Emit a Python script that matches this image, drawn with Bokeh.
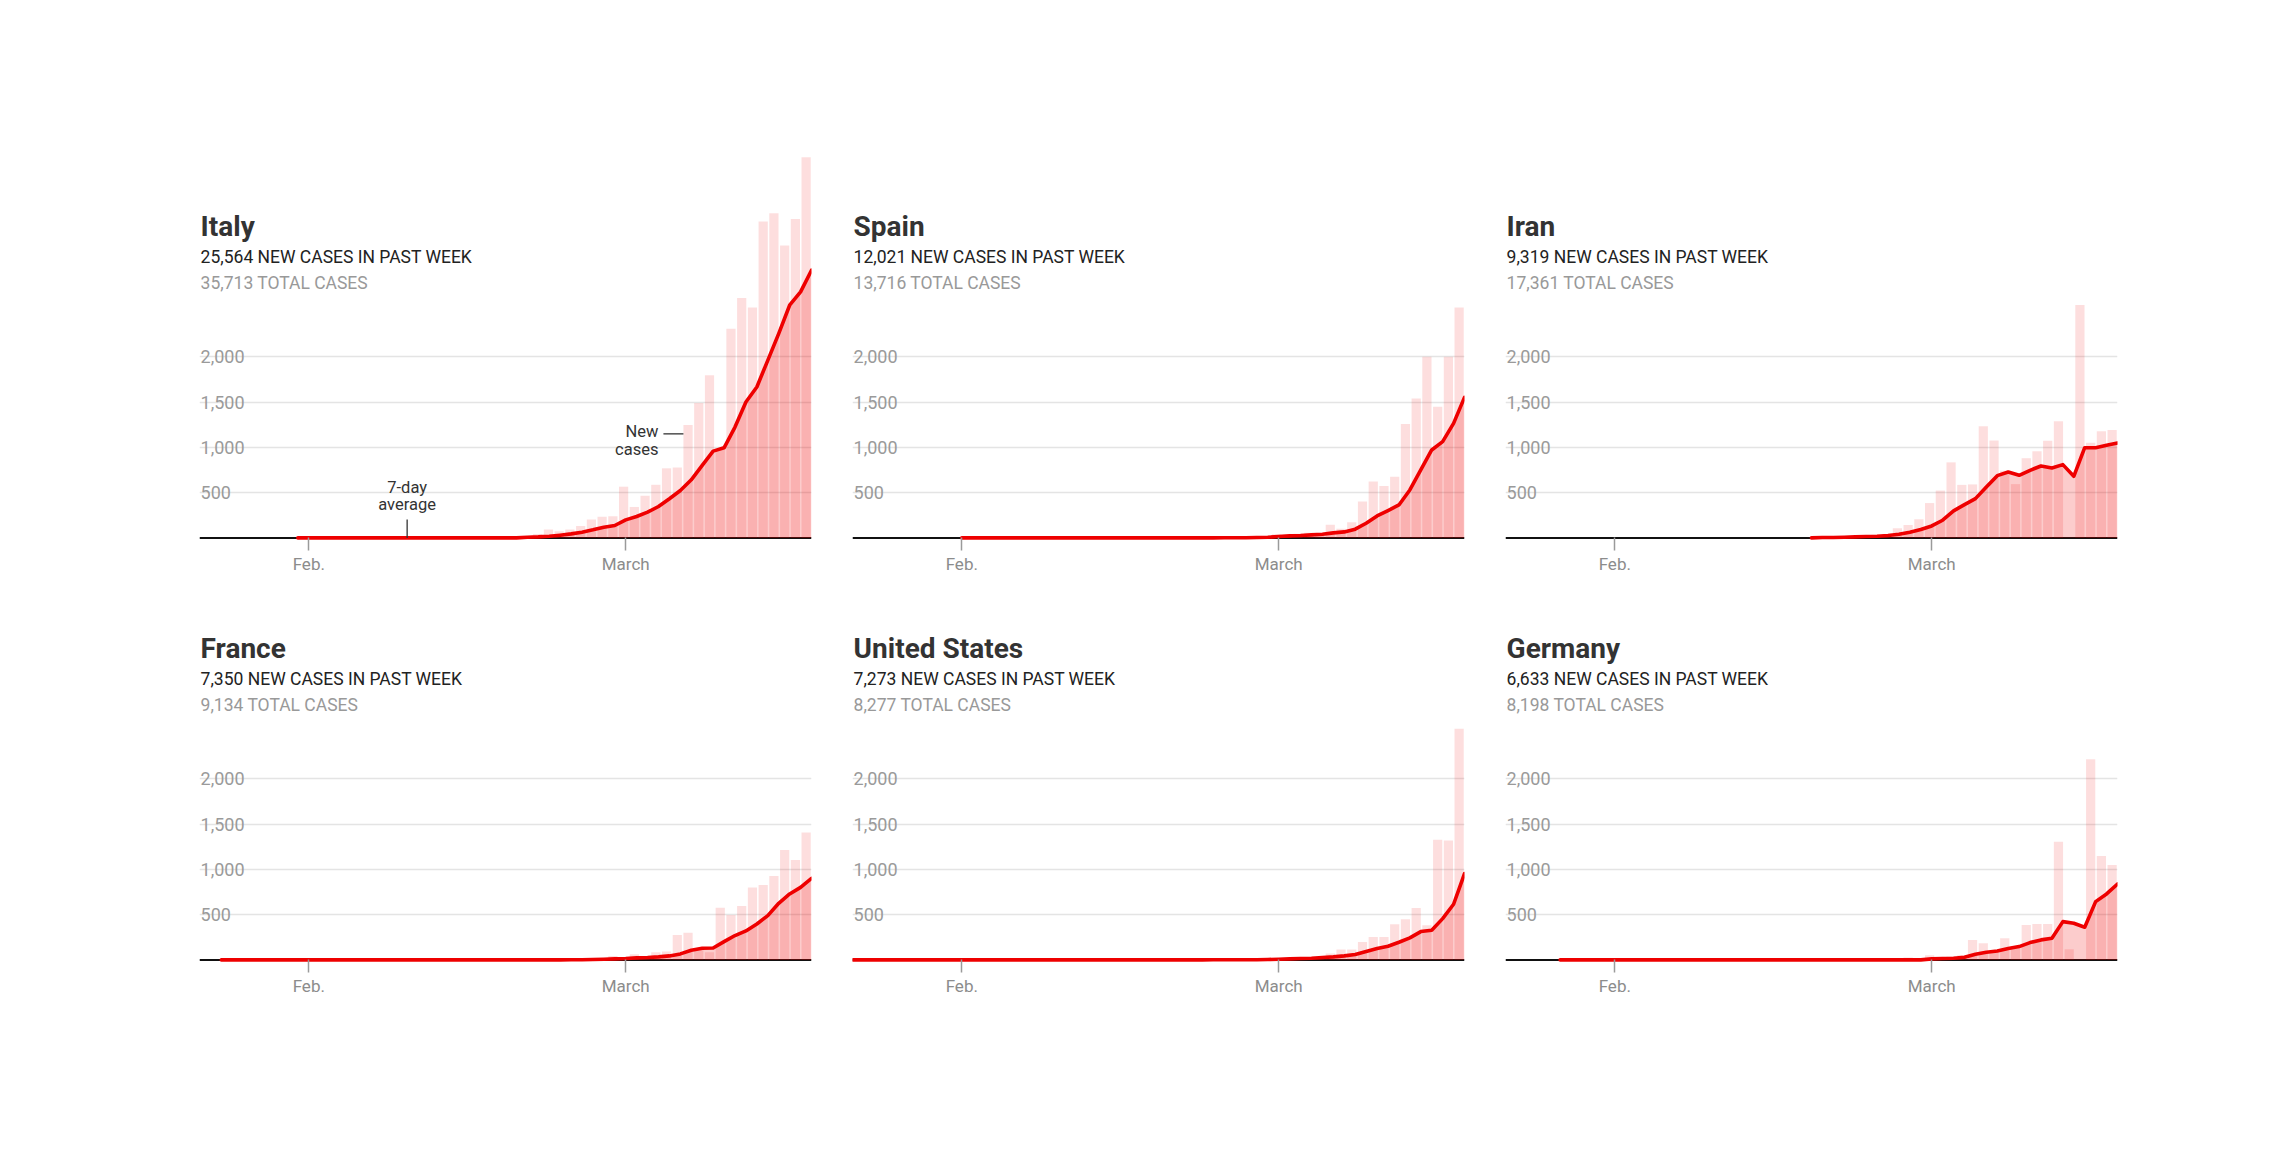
import numpy as np
from bokeh.plotting import figure
from bokeh.models import Range1d, FixedTicker, Grid, Span
from bokeh.layouts import column, row
from bokeh.embed import file_html
from bokeh.resources import INLINE
from bokeh.core.properties import value

# ---------------- data ----------------
# day index 0 = Jan. 22, 2020 ... 56 = March 18, 2020
days = list(range(57))
x_tick_days = [10, 39]
x_tick_labels = ["Feb.", "March"]
y_ticks = [500, 1000, 1500, 2000]
y_tick_labels = ["500", "1,000", "1,500", "2,000"]

countries = ["Italy", "Spain", "Iran", "France", "United States", "Germany"]
new_past_week = ["25,564", "12,021", "9,319", "7,350", "7,273", "6,633"]
total_cases = ["35,713", "13,716", "17,361", "9,134", "8,277", "8,198"]

italy_new = [0, 0, 0, 0, 0, 0, 0, 0, 0, 2,
             0, 0, 0, 0, 0, 0, 1, 0, 0, 0,
             0, 0, 0, 0, 0, 0, 0, 0, 0, 0,
             17, 42, 93, 74, 93, 131, 202, 233, 240, 566,
             342, 466, 587, 769, 778, 1247, 1492, 1797, 977, 2313,
             2651, 2547, 3497, 3590, 3233, 3526, 4207]
italy_avg = [None, None, None, None, None, None, None, None, None, 0,
             0, 0, 0, 0, 0, 0, 0, 0, 0, 0,
             0, 0, 0, 0, 0, 0, 0, 0, 0, 0,
             7, 11, 18, 30, 44, 63, 89, 118, 137, 199,
             236, 284, 347, 432, 524, 642, 801, 959, 996, 1225,
             1502, 1668, 1963, 2258, 2572, 2720, 2959]

spain_new = [0, 0, 0, 0, 0, 0, 0, 0, 0, 0,
             1, 0, 0, 0, 0, 0, 0, 0, 1, 0,
             0, 0, 0, 0, 0, 0, 0, 0, 0, 0,
             0, 0, 0, 0, 4, 7, 2, 17, 13, 39,
             36, 45, 57, 37, 144, 100, 173, 401, 622, 574,
             677, 1259, 1542, 2002, 1450, 2002, 2547]
spain_avg = [None, None, None, None, None, None, None, None, None, None,
             0, 0, 0, 0, 0, 0, 0, 0, 0, 0,
             0, 0, 0, 0, 0, 0, 0, 0, 0, 0,
             0, 0, 0, 0, 1, 2, 2, 5, 7, 15,
             22, 26, 33, 40, 55, 66, 96, 162, 243, 302,
             364, 530, 751, 972, 1064, 1266, 1553]

iran_new = [0, 0, 0, 0, 0, 0, 0, 0, 0, 0,
            0, 0, 0, 0, 0, 0, 0, 0, 0, 0,
            0, 0, 0, 0, 0, 0, 0, 0, 2, 3,
            13, 10, 15, 18, 34, 44, 106, 143, 205, 385,
            523, 835, 586, 591, 1234, 1076, 743, 595, 881, 958,
            1075, 1289, 0, 2574, 1053, 1178, 1192]
iran_avg = [None, None, None, None, None, None, None, None, None, None,
            None, None, None, None, None, None, None, None, None, None,
            None, None, None, None, None, None, None, None, 0, 4,
            4, 7, 11, 15, 18, 26, 40, 63, 92, 132,
            195, 298, 368, 434, 563, 688, 729, 692, 747, 795,
            773, 810, 681, 997, 997, 1023, 1049]

france_new = [0, 0, 2, 1, 0, 0, 0, 1, 1, 0,
              1, 0, 0, 0, 0, 0, 0, 5, 0, 0,
              0, 0, 0, 0, 1, 0, 0, 0, 0, 0,
              0, 0, 0, 0, 2, 4, 20, 19, 43, 30,
              61, 13, 84, 92, 276, 301, 117, 83, 575, 497,
              596, 799, 828, 927, 1214, 1104, 1409]
france_avg = [None, None, 0, 0, 0, 0, 0, 0, 0, 0,
              0, 0, 0, 0, 0, 0, 0, 0, 0, 0,
              0, 0, 0, 0, 0, 0, 0, 0, 0, 0,
              0, 0, 0, 0, 1, 2, 4, 7, 11, 15,
              22, 26, 33, 44, 66, 107, 129, 132, 202, 269,
              320, 397, 489, 626, 729, 802, 902]

us_new = [1, 0, 1, 0, 3, 0, 0, 0, 0, 1,
          1, 0, 3, 0, 0, 1, 0, 0, 0, 0,
          1, 0, 0, 1, 0, 0, 0, 0, 0, 2,
          0, 0, 0, 0, 0, 1, 1, 3, 6, 8,
          15, 20, 20, 30, 70, 114, 114, 199, 254, 254,
          394, 449, 574, 383, 1328, 1321, 2554]
us_avg = [0, 0, 0, 0, 0, 0, 0, 0, 0, 0,
          0, 0, 0, 0, 0, 0, 0, 0, 0, 0,
          0, 0, 0, 0, 0, 0, 0, 0, 0, 0,
          0, 0, 0, 1, 1, 1, 2, 2, 4, 7,
          11, 15, 18, 26, 33, 44, 59, 92, 125, 151,
          195, 243, 313, 328, 456, 615, 953]

germany_new = [0, 0, 0, 0, 0, 1, 3, 0, 0, 1,
               3, 0, 2, 2, 0, 0, 1, 0, 0, 0,
               2, 0, 0, 0, 0, 0, 0, 0, 0, 0,
               0, 0, 0, 0, 2, 5, 5, 27, 13, 51,
               33, 38, 52, 221, 184, 100, 239, 150, 386, 397,
               397, 1306, 118, 0, 2219, 1148, 1049]
germany_avg = [None, None, None, None, None, 0, 0, 0, 0, 0,
               0, 0, 0, 0, 0, 0, 0, 0, 0, 0,
               0, 0, 0, 0, 0, 0, 0, 0, 0, 0,
               0, 0, 0, 0, 0, 0, 0, 0, 0, 11,
               15, 18, 29, 63, 85, 99, 125, 147, 191, 221,
               239, 423, 405, 361, 644, 729, 839]

new_series = [italy_new, spain_new, iran_new, france_new, us_new, germany_new]
avg_series = [italy_avg, spain_avg, iran_avg, france_avg, us_avg, germany_avg]

# ---------------- styling / geometry ----------------
FONT = "Roboto"
RED = "#ee0000"
FRAME_W = 612
N_DAYS = len(days)
X_END = N_DAYS - 1
col_border_left = [199, 21, 21]
col_border_right = [20, 20, 30]
row_border_top = [143, 0]
row_border_bottom = [62, 60]
row_frame_h = [398, 360]
row_ymax = [4360, 3940]
Y_MIN = -40


def make_panel(k):
    r, c = divmod(k, 3)
    p = figure(
        width=col_border_left[c] + FRAME_W + col_border_right[c],
        height=row_border_top[r] + row_frame_h[r] + row_border_bottom[r],
        x_range=Range1d(0, X_END), y_range=Range1d(Y_MIN, row_ymax[r]),
        output_backend="svg", toolbar_location=None, title=None,
        y_axis_location=None,
        min_border_left=col_border_left[c], min_border_right=col_border_right[c],
        min_border_top=row_border_top[r], min_border_bottom=row_border_bottom[r],
    )
    p.outline_line_color = None
    p.background_fill_color = "white"
    p.border_fill_color = "white"
    # drop the default grids; custom ones are added below
    p.center = [m for m in p.center if not isinstance(m, Grid)]

    # x axis
    ax = p.xaxis[0]
    ax.ticker = FixedTicker(ticks=x_tick_days)
    ax.major_label_overrides = dict(zip(x_tick_days, x_tick_labels))
    ax.axis_line_color = None
    ax.major_tick_line_color = "#9a9a9a"
    ax.major_tick_line_width = 1.5
    ax.major_tick_in = 4
    ax.major_tick_out = 9
    ax.minor_tick_line_color = None
    ax.major_label_text_font = FONT
    ax.major_label_text_font_size = "17px"
    ax.major_label_text_color = "#8c8c8c"
    ax.major_label_standoff = 3

    # horizontal gridlines, starting right of their labels
    p.add_layout(Grid(dimension=1, ticker=FixedTicker(ticks=y_ticks[:1]),
                      bounds=(3.1, X_END), grid_line_color="#e4e4e4",
                      grid_line_width=1.3), "center")
    p.add_layout(Grid(dimension=1, ticker=FixedTicker(ticks=y_ticks[1:]),
                      bounds=(4.8, X_END), grid_line_color="#e4e4e4",
                      grid_line_width=1.3), "center")
    p.add_layout(Span(location=0, dimension="width", line_color="#111111",
                      line_width=2, level="underlay"))

    new = new_series[k]
    avg = np.array(avg_series[k], dtype=float)
    band = X_END / N_DAYS
    bar_x = [(d + 0.5) * band for d in days]
    p.vbar(x=bar_x, top=new, bottom=0, width=band * 0.86,
           fill_color=RED, fill_alpha=0.13, line_color=None)
    p.varea(x=days, y1=0, y2=np.nan_to_num(avg), fill_color=RED, fill_alpha=0.2)
    p.line(x=days, y=avg, line_color=RED, line_width=3.6,
           line_join="round", line_cap="round")

    # y tick labels
    p.text(x=[0.1] * len(y_ticks), y=y_ticks, text=y_tick_labels,
           text_font=value(FONT), text_font_size="18px", text_color="#9a9a9a",
           text_baseline="middle", text_align="left")

    # header texts
    p.text(x=[0.1], y=[3439], text=[countries[k]], text_font=value(FONT),
           text_font_style="bold", text_font_size="28px", text_color="#333333",
           text_baseline="alphabetic", text_align="left")
    p.text(x=[0.1], y=[3100], text=[new_past_week[k] + " NEW CASES IN PAST WEEK"],
           text_font=value(FONT), text_font_size="17.5px", text_color="#222222",
           text_baseline="alphabetic", text_align="left")
    p.text(x=[0.1], y=[2820], text=[total_cases[k] + " TOTAL CASES"],
           text_font=value(FONT), text_font_size="17.5px", text_color="#999999",
           text_baseline="alphabetic", text_align="left")

    if k == 0:
        ann = dict(text_font=value(FONT), text_font_size="16.5px",
                   text_color="#333333", text_baseline="alphabetic")
        p.text(x=[42.0, 42.0], y=[1176, 977], text=["New", "cases"],
               text_align="right", **ann)
        p.segment(x0=[42.45], y0=[1150], x1=[44.28], y1=[1150],
                  line_color="#333333", line_width=1.3)
        p.text(x=[19.0, 19.0], y=[557, 372], text=["7-day", "average"],
               text_align="center", **ann)
        p.segment(x0=[19.0], y0=[0], x1=[19.0], y1=[203],
                  line_color="#333333", line_width=1.3)
    return p


panels = [make_panel(k) for k in range(6)]
layout = column(row(*panels[:3]), row(*panels[3:]))

open("out.html", "w").write(file_html(layout, INLINE, title="Coronavirus cases"))
